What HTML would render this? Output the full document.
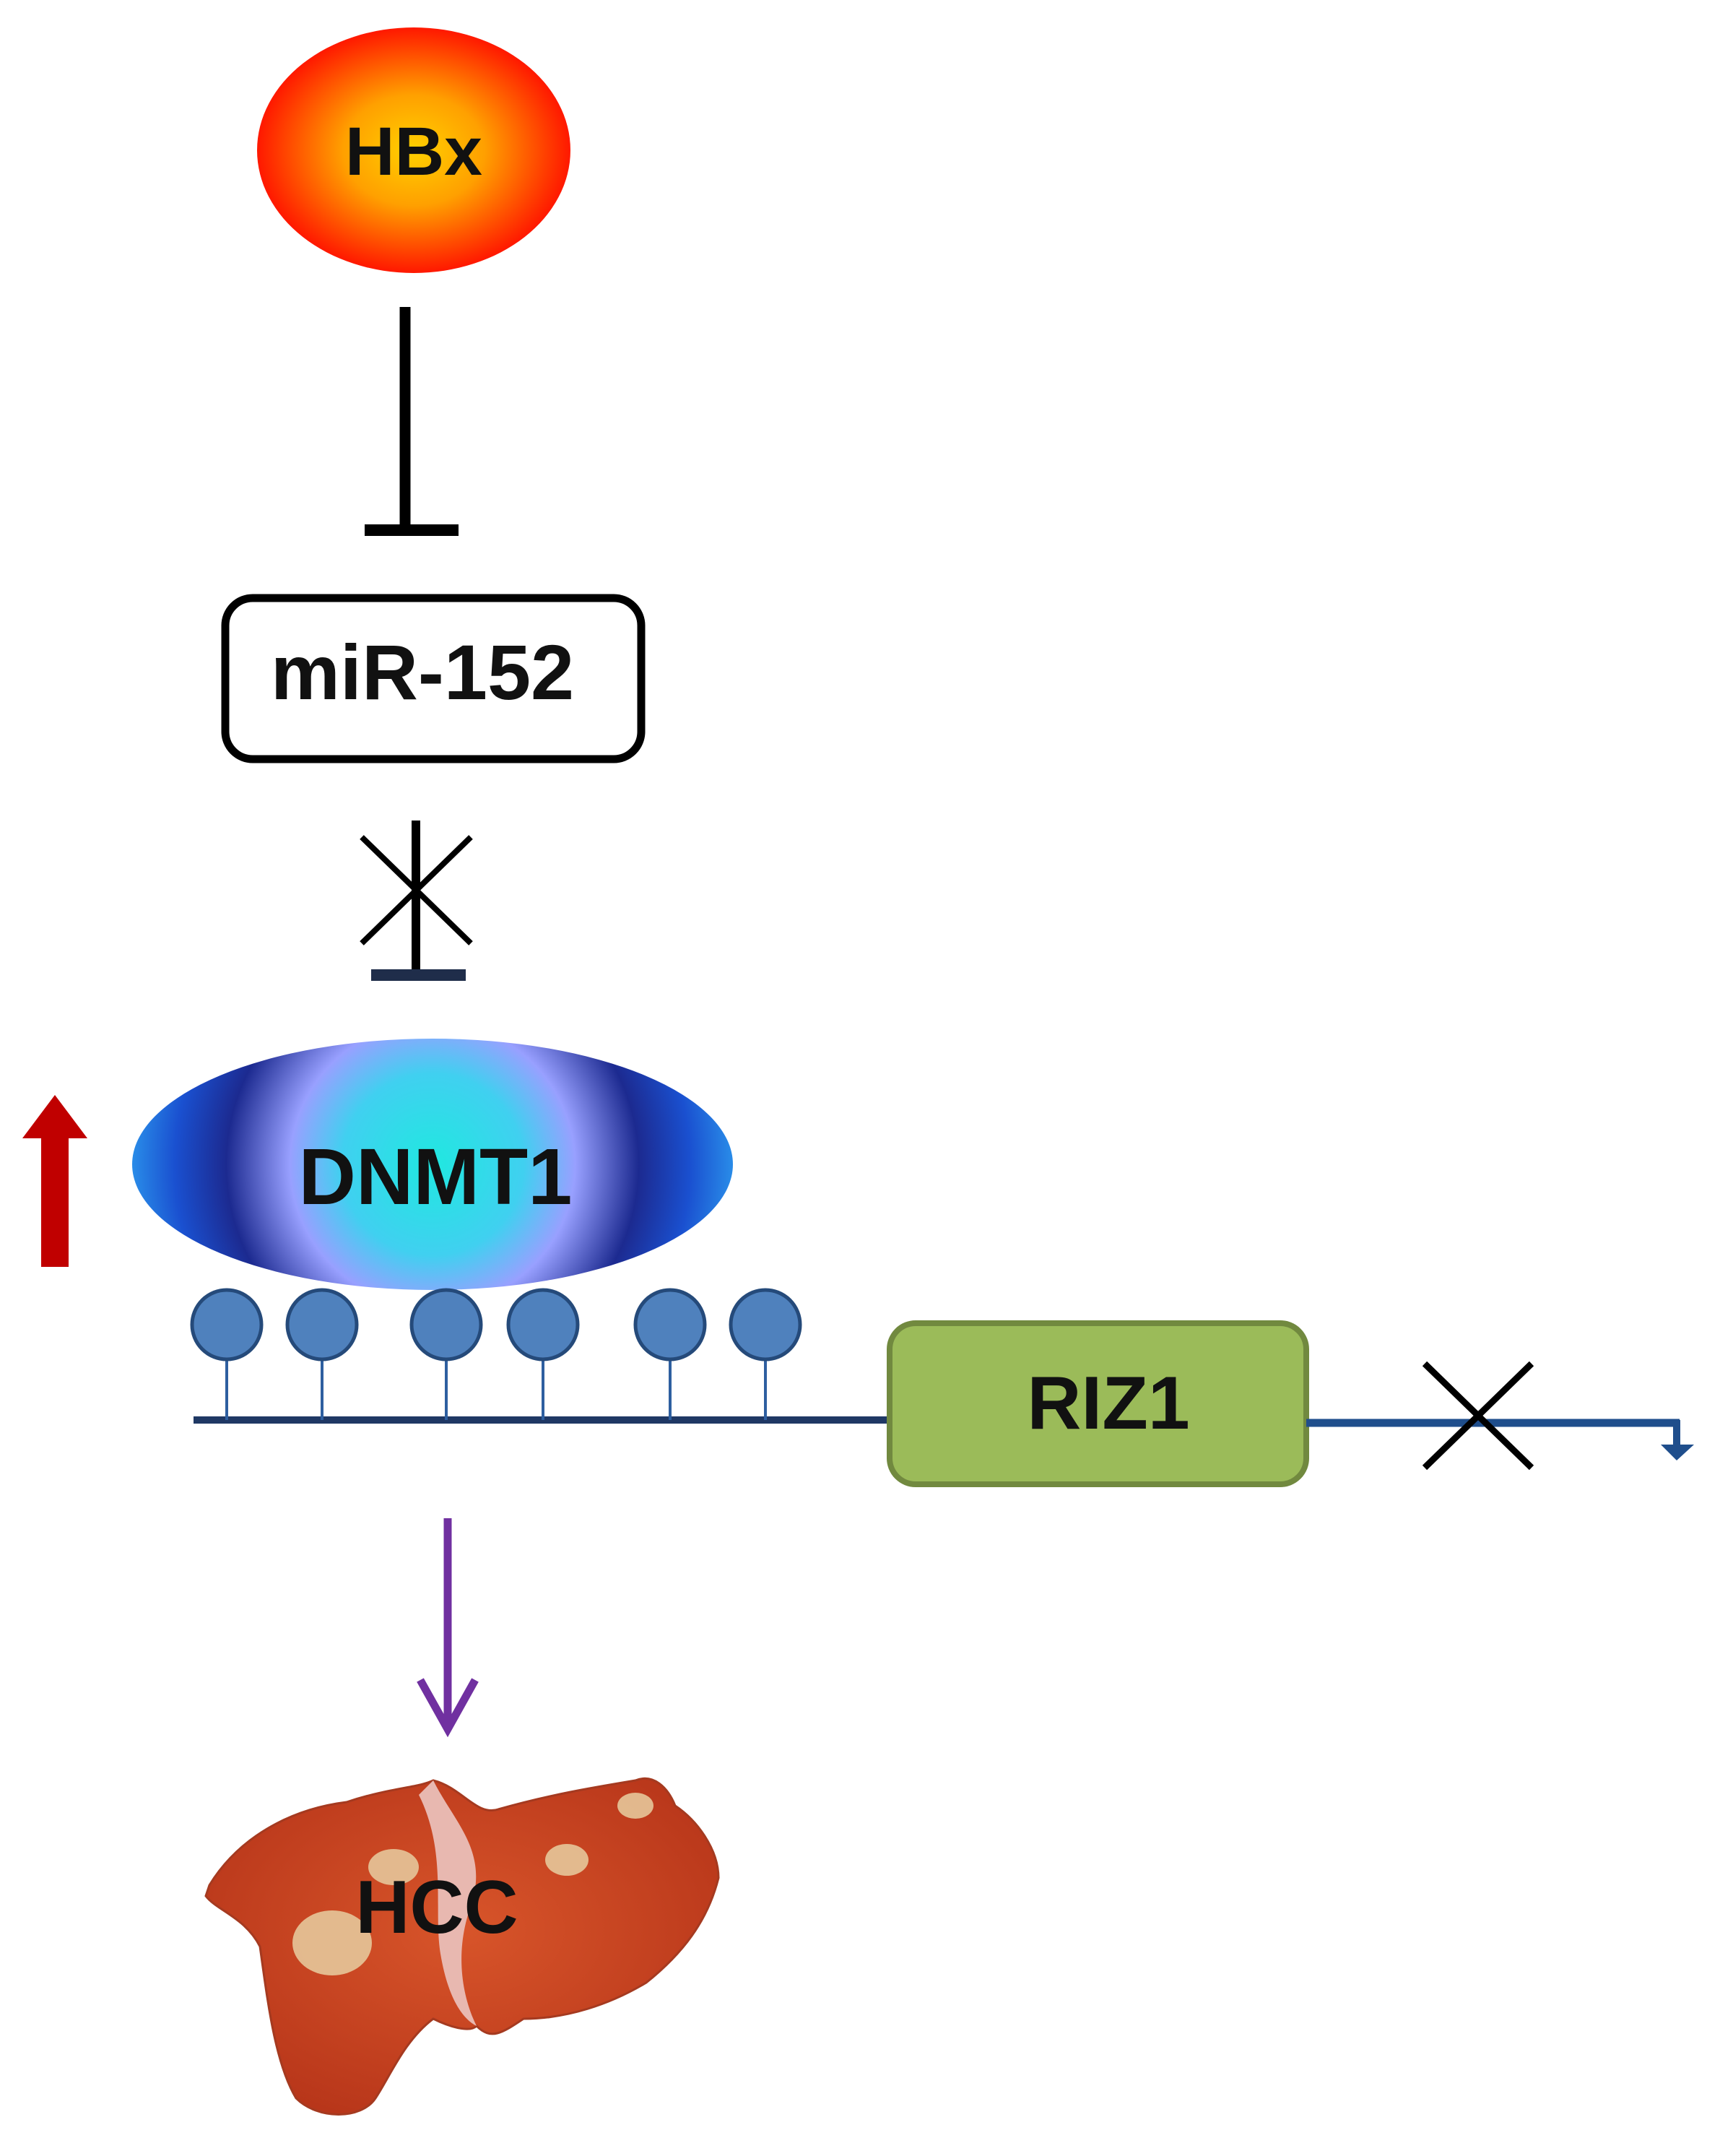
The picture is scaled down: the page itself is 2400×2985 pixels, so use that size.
<!DOCTYPE html>
<html><head><meta charset="utf-8"><style>
html,body{margin:0;padding:0;background:#fff;}
svg{display:block;}
text{font-family:"Liberation Sans",sans-serif;font-weight:bold;}
</style></head><body>
<svg width="2400" height="2985" viewBox="0 0 2400 2985" xmlns="http://www.w3.org/2000/svg">
<defs>
<radialGradient id="hbx" cx="50%" cy="50%" r="50%">
<stop offset="0" stop-color="#ffd000"/><stop offset="0.45" stop-color="#ffa000"/><stop offset="1" stop-color="#ff1800"/>
</radialGradient>
<radialGradient id="dn" gradientUnits="userSpaceOnUse" cx="599" cy="1612" r="420">
<stop offset="0" stop-color="#20e8e0"/><stop offset="0.3" stop-color="#40d0f0"/>
<stop offset="0.47" stop-color="#98a0ff"/><stop offset="0.68" stop-color="#1c2a90"/>
<stop offset="0.85" stop-color="#1a50d0"/><stop offset="1" stop-color="#2a90ea"/>
</radialGradient>
<radialGradient id="liv" cx="50%" cy="45%" r="60%">
<stop offset="0" stop-color="#d8552a"/><stop offset="1" stop-color="#b8361a"/>
</radialGradient>
</defs>

<ellipse cx="573" cy="208" rx="217" ry="170" fill="url(#hbx)"/>
<text x="573" y="242" font-size="95" text-anchor="middle" fill="#111">HBx</text>

<line x1="561" y1="425" x2="561" y2="734" stroke="#000" stroke-width="15"/>
<line x1="505" y1="734" x2="635" y2="734" stroke="#000" stroke-width="16"/>

<rect x="312" y="828" width="576" height="223" rx="38" fill="#fff" stroke="#000" stroke-width="11"/>
<text x="585" y="968" font-size="108" text-anchor="middle" fill="#111">miR-152</text>

<line x1="576" y1="1136" x2="576" y2="1350" stroke="#000" stroke-width="12"/>
<line x1="514" y1="1350" x2="645" y2="1350" stroke="#1f2d4a" stroke-width="16"/>
<line x1="501" y1="1159" x2="652" y2="1306" stroke="#000" stroke-width="8"/>
<line x1="652" y1="1159" x2="501" y2="1306" stroke="#000" stroke-width="8"/>

<rect x="57" y="1572" width="38" height="182" fill="#c00000"/>
<polygon points="76,1516 121,1576 31,1576" fill="#c00000"/>

<ellipse cx="599" cy="1612" rx="416" ry="174" fill="url(#dn)"/>
<text x="603" y="1667" font-size="110" text-anchor="middle" fill="#111">DNMT1</text>

<line x1="268" y1="1966" x2="1240" y2="1966" stroke="#1f3864" stroke-width="10"/>
<g stroke="#2e5fa0" stroke-width="4">
<line x1="314" y1="1874" x2="314" y2="1966"/><line x1="446" y1="1874" x2="446" y2="1966"/>
<line x1="618" y1="1874" x2="618" y2="1966"/><line x1="752" y1="1874" x2="752" y2="1966"/>
<line x1="928" y1="1874" x2="928" y2="1966"/><line x1="1060" y1="1874" x2="1060" y2="1966"/>
</g>
<g fill="#4f81bd" stroke="#254a7a" stroke-width="5">
<circle cx="314" cy="1834" r="48"/><circle cx="446" cy="1834" r="48"/>
<circle cx="618" cy="1834" r="48"/><circle cx="752" cy="1834" r="48"/>
<circle cx="928" cy="1834" r="48"/><circle cx="1060" cy="1834" r="48"/>
</g>

<rect x="1232" y="1832" width="577" height="223" rx="36" fill="#9bbb59" stroke="#71893f" stroke-width="8"/>
<text x="1535" y="1978" font-size="104" text-anchor="middle" fill="#111">RIZ1</text>

<line x1="1809" y1="1970" x2="2326" y2="1970" stroke="#1f4e8c" stroke-width="11"/>
<line x1="2322" y1="1966" x2="2322" y2="2004" stroke="#1f4e8c" stroke-width="10"/>
<polygon points="2300,2000 2346,2000 2322,2022" fill="#1f4e8c"/>
<line x1="1973" y1="1888" x2="2121" y2="2032" stroke="#000" stroke-width="9"/>
<line x1="2121" y1="1888" x2="1973" y2="2032" stroke="#000" stroke-width="9"/>

<line x1="620" y1="2102" x2="620" y2="2392" stroke="#7030a0" stroke-width="11"/>
<polyline points="582,2326 620,2394 658,2326" fill="none" stroke="#7030a0" stroke-width="11"/>

<path d="M290,2610 C330,2545 400,2505 480,2495 C540,2475 580,2475 600,2465 C640,2475 660,2515 690,2505 C760,2485 820,2475 880,2465 C905,2455 925,2475 935,2500 C965,2520 995,2560 995,2600 C980,2660 945,2705 895,2745 C845,2775 785,2795 725,2795 C695,2815 680,2825 660,2805 C650,2815 620,2805 600,2795 C560,2825 540,2875 520,2905 C500,2935 440,2935 410,2905 C380,2855 370,2765 360,2695 C340,2655 300,2645 285,2625 Z" fill="url(#liv)" stroke="#a53a20" stroke-width="3"/>
<path d="M600,2465 C630,2525 680,2565 650,2645 C630,2705 640,2765 660,2805 C640,2795 620,2765 610,2705 C600,2645 620,2565 580,2485 Z" fill="#e8b8b0"/>
<g fill="#e6c69a" opacity="0.9">
<ellipse cx="460" cy="2690" rx="55" ry="45"/><ellipse cx="545" cy="2585" rx="35" ry="25"/>
<ellipse cx="785" cy="2575" rx="30" ry="22"/><ellipse cx="880" cy="2500" rx="25" ry="18"/>
</g>
<text x="605" y="2676" font-size="104" text-anchor="middle" fill="#111">HCC</text>
</svg>
</body></html>
